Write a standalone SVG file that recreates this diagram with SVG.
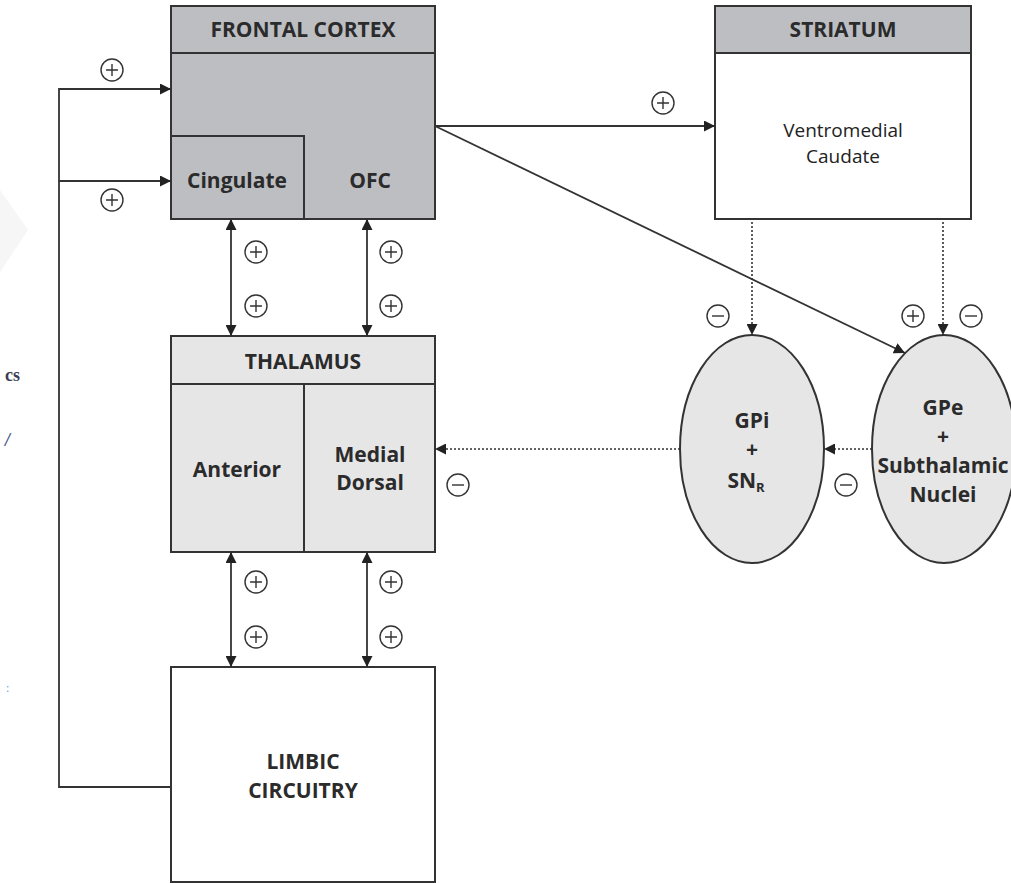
<svg xmlns="http://www.w3.org/2000/svg" width="1011" height="883" viewBox="0 0 1011 883">
<style>
.box{stroke:#333;stroke-width:2}
.dark{fill:#bdbec2}
.light{fill:#e6e6e6}
.white{fill:#fff}
.t{font-family:"Open Sans","Noto Sans",sans-serif;fill:#2b2b2b;text-anchor:middle}
.b{font-weight:bold;font-size:21px}
.r{font-size:19px;fill:#222}
.ln{stroke:#333;stroke-width:1.8;fill:none}
.dot{stroke:#333;stroke-width:1.6;fill:none;stroke-dasharray:2 2}
.sg{fill:#fff;stroke:#333;stroke-width:1.4}
.sgl{stroke:#333;stroke-width:1.4}
</style>
<defs>
<marker id="ah" viewBox="0 0 10 10" refX="10" refY="5" markerWidth="11" markerHeight="11" markerUnits="userSpaceOnUse" orient="auto-start-reverse">
<path d="M0,0 L10,5 L0,10 z" fill="#222"/>
</marker>
<g id="plus"><circle r="11" class="sg"/><path d="M-6,0 H6 M0,-6 V6" class="sgl"/></g>
<g id="minus"><circle r="11" class="sg"/><path d="M-6,0 H6" class="sgl"/></g>
</defs>
<rect width="1011" height="883" fill="#fff"/>
<polygon points="0,190 28,230 0,272" fill="#f6f6f6"/>
<text x="5" y="381" font-family="Liberation Serif,serif" font-size="18" font-weight="bold" fill="#3a3f55">cs</text>
<text x="5" y="446" font-family="Liberation Serif,serif" font-size="18" font-style="italic" font-weight="bold" fill="#3a4f8a">/</text>
<text x="6" y="692" font-family="Liberation Serif,serif" font-size="12" fill="#6a9ad0">:</text>

<g id="frontal-cortex">
<rect x="171" y="6" width="264" height="213" class="box dark"/>
<line x1="171" y1="53" x2="435" y2="53" class="box"/>
<path d="M171,136 H304 V219" class="box" fill="none"/>
<text x="303" y="37" class="t b">FRONTAL CORTEX</text>
<text x="237" y="188" class="t b">Cingulate</text>
<text x="370" y="188" class="t b">OFC</text>
</g>

<g id="striatum">
<rect x="715" y="6" width="256" height="213" class="box white"/>
<rect x="715" y="6" width="256" height="47" class="box dark"/>
<text x="843" y="37" class="t b">STRIATUM</text>
<text x="843" y="137" class="t r">Ventromedial</text>
<text x="843" y="163" class="t r">Caudate</text>
</g>

<g id="thalamus">
<rect x="171" y="336" width="264" height="216" class="box light"/>
<line x1="171" y1="384" x2="435" y2="384" class="box"/>
<line x1="304" y1="384" x2="304" y2="552" class="box"/>
<text x="303" y="369" class="t b">THALAMUS</text>
<text x="237" y="477" class="t b">Anterior</text>
<text x="370" y="462" class="t b">Medial</text>
<text x="370" y="490" class="t b">Dorsal</text>
</g>

<g id="limbic-circuitry">
<rect x="171" y="667" width="264" height="215" class="box white"/>
<text x="303" y="769" class="t b">LIMBIC</text>
<text x="303" y="798" class="t b">CIRCUITRY</text>
</g>

<g id="gpi">
<ellipse cx="752" cy="449" rx="72" ry="114" class="box light"/>
<text x="752" y="428" class="t b">GPi</text>
<text x="752" y="457" class="t b">+</text>
<text x="746" y="488" class="t b">SN<tspan font-size="13" dy="4">R</tspan></text>
</g>

<g id="gpe">
<ellipse cx="944" cy="449" rx="72" ry="114" class="box light"/>
<text x="943" y="415" class="t b">GPe</text>
<text x="943" y="444" class="t b">+</text>
<text x="943" y="473" class="t b">Subthalamic</text>
<text x="943" y="502" class="t b">Nuclei</text>
</g>

<g id="connectors">
<path d="M171,787 H59 V89 H171" class="ln" marker-end="url(#ah)"/>
<path d="M59,181 H171" class="ln" marker-end="url(#ah)"/>
<path d="M435,126 H715" class="ln" marker-end="url(#ah)"/>
<path d="M435,126 L905,353" class="ln" marker-end="url(#ah)"/>
<path d="M231,219 V336" class="ln" marker-start="url(#ah)" marker-end="url(#ah)"/>
<path d="M367,219 V336" class="ln" marker-start="url(#ah)" marker-end="url(#ah)"/>
<path d="M231,552 V667" class="ln" marker-start="url(#ah)" marker-end="url(#ah)"/>
<path d="M367,552 V667" class="ln" marker-start="url(#ah)" marker-end="url(#ah)"/>
<path d="M752,222 V335" class="dot" marker-end="url(#ah)"/>
<path d="M943,222 V335" class="dot" marker-end="url(#ah)"/>
<path d="M872,449 H824" class="dot" marker-end="url(#ah)"/>
<path d="M680,449 H435" class="dot" marker-end="url(#ah)"/>
</g>

<g id="signs">
<use href="#plus" x="112" y="70"/>
<use href="#plus" x="112" y="200"/>
<use href="#plus" x="663" y="103"/>
<use href="#plus" x="256" y="252"/>
<use href="#plus" x="256" y="306"/>
<use href="#plus" x="391" y="252"/>
<use href="#plus" x="391" y="306"/>
<use href="#plus" x="256" y="582"/>
<use href="#plus" x="256" y="637"/>
<use href="#plus" x="391" y="582"/>
<use href="#plus" x="391" y="637"/>
<use href="#minus" x="718" y="316"/>
<use href="#plus" x="913" y="316"/>
<use href="#minus" x="971" y="316"/>
<use href="#minus" x="846" y="485"/>
<use href="#minus" x="458" y="485"/>
</g>
</svg>
